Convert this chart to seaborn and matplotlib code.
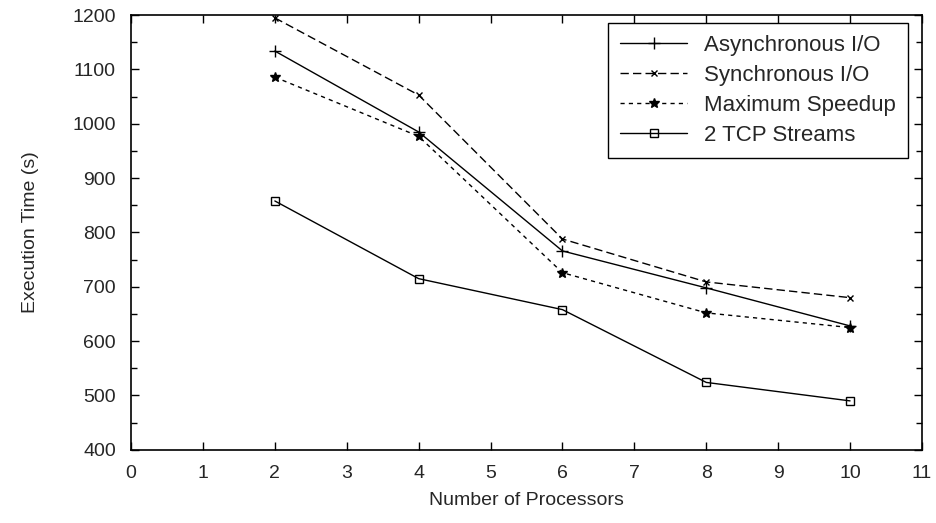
import seaborn as sns
import matplotlib
matplotlib.use("Agg")
import matplotlib.pyplot as plt
from matplotlib.ticker import MultipleLocator

processors = [2, 4, 6, 8, 10]
async_io = [1134, 985, 766, 698, 628]
sync_io = [1195, 1053, 788, 709, 680]
max_speedup = [1086, 977, 726, 652, 625]
tcp_streams = [858, 715, 658, 524, 490]

labels = ["Asynchronous I/O", "Synchronous I/O", "Maximum Speedup", "2 TCP Streams"]

sns.set_style("ticks")
plt.rcParams['font.family'] = ['Liberation Sans', 'DejaVu Sans']

fig = plt.figure(figsize=(9.36, 5.23), dpi=100)
ax = fig.add_axes([0.14, 0.14, 0.845, 0.831])

series = [
    (async_io, '-', '+', 8, None),
    (sync_io, (0, (6, 3)), 'x', 5, None),
    (max_speedup, (0, (3, 3)), '*', 7, None),
    (tcp_streams, '-', 's', 6, 'none'),
]
for (vals, ls, mk, ms, mfc), lab in zip(series, labels):
    sns.lineplot(x=processors, y=vals, ax=ax, color='black', linewidth=1.0,
                 linestyle=ls, marker=mk, markersize=ms, markeredgewidth=1.0,
                 markerfacecolor=mfc if mfc else 'black',
                 markeredgecolor='black', label=lab)

ax.set_xlim(0, 11)
ax.set_ylim(400, 1200)
ax.xaxis.set_major_locator(MultipleLocator(1))
ax.yaxis.set_major_locator(MultipleLocator(100))
ax.yaxis.set_minor_locator(MultipleLocator(50))
ax.tick_params(which='both', direction='in', top=True, right=True, labelsize=14,
               width=1.0, color='black')
ax.tick_params(which='major', length=6, pad=11)
ax.tick_params(which='minor', length=4)
for s in ax.spines.values():
    s.set_linewidth(1.2)
    s.set_color('black')

ax.set_xlabel('Number of Processors', fontsize=14, labelpad=7)
ax.set_ylabel('Execution Time (s)', fontsize=14, labelpad=24)

leg = ax.legend(loc='upper right', bbox_to_anchor=(0.982, 0.982), fontsize=16,
                handlelength=3.0, frameon=True, fancybox=False, edgecolor='black',
                framealpha=1, borderaxespad=0, borderpad=0.55, labelspacing=0.4,
                handletextpad=0.75)
leg.get_frame().set_linewidth(1.0)

fig.savefig('out.png', dpi=100)
